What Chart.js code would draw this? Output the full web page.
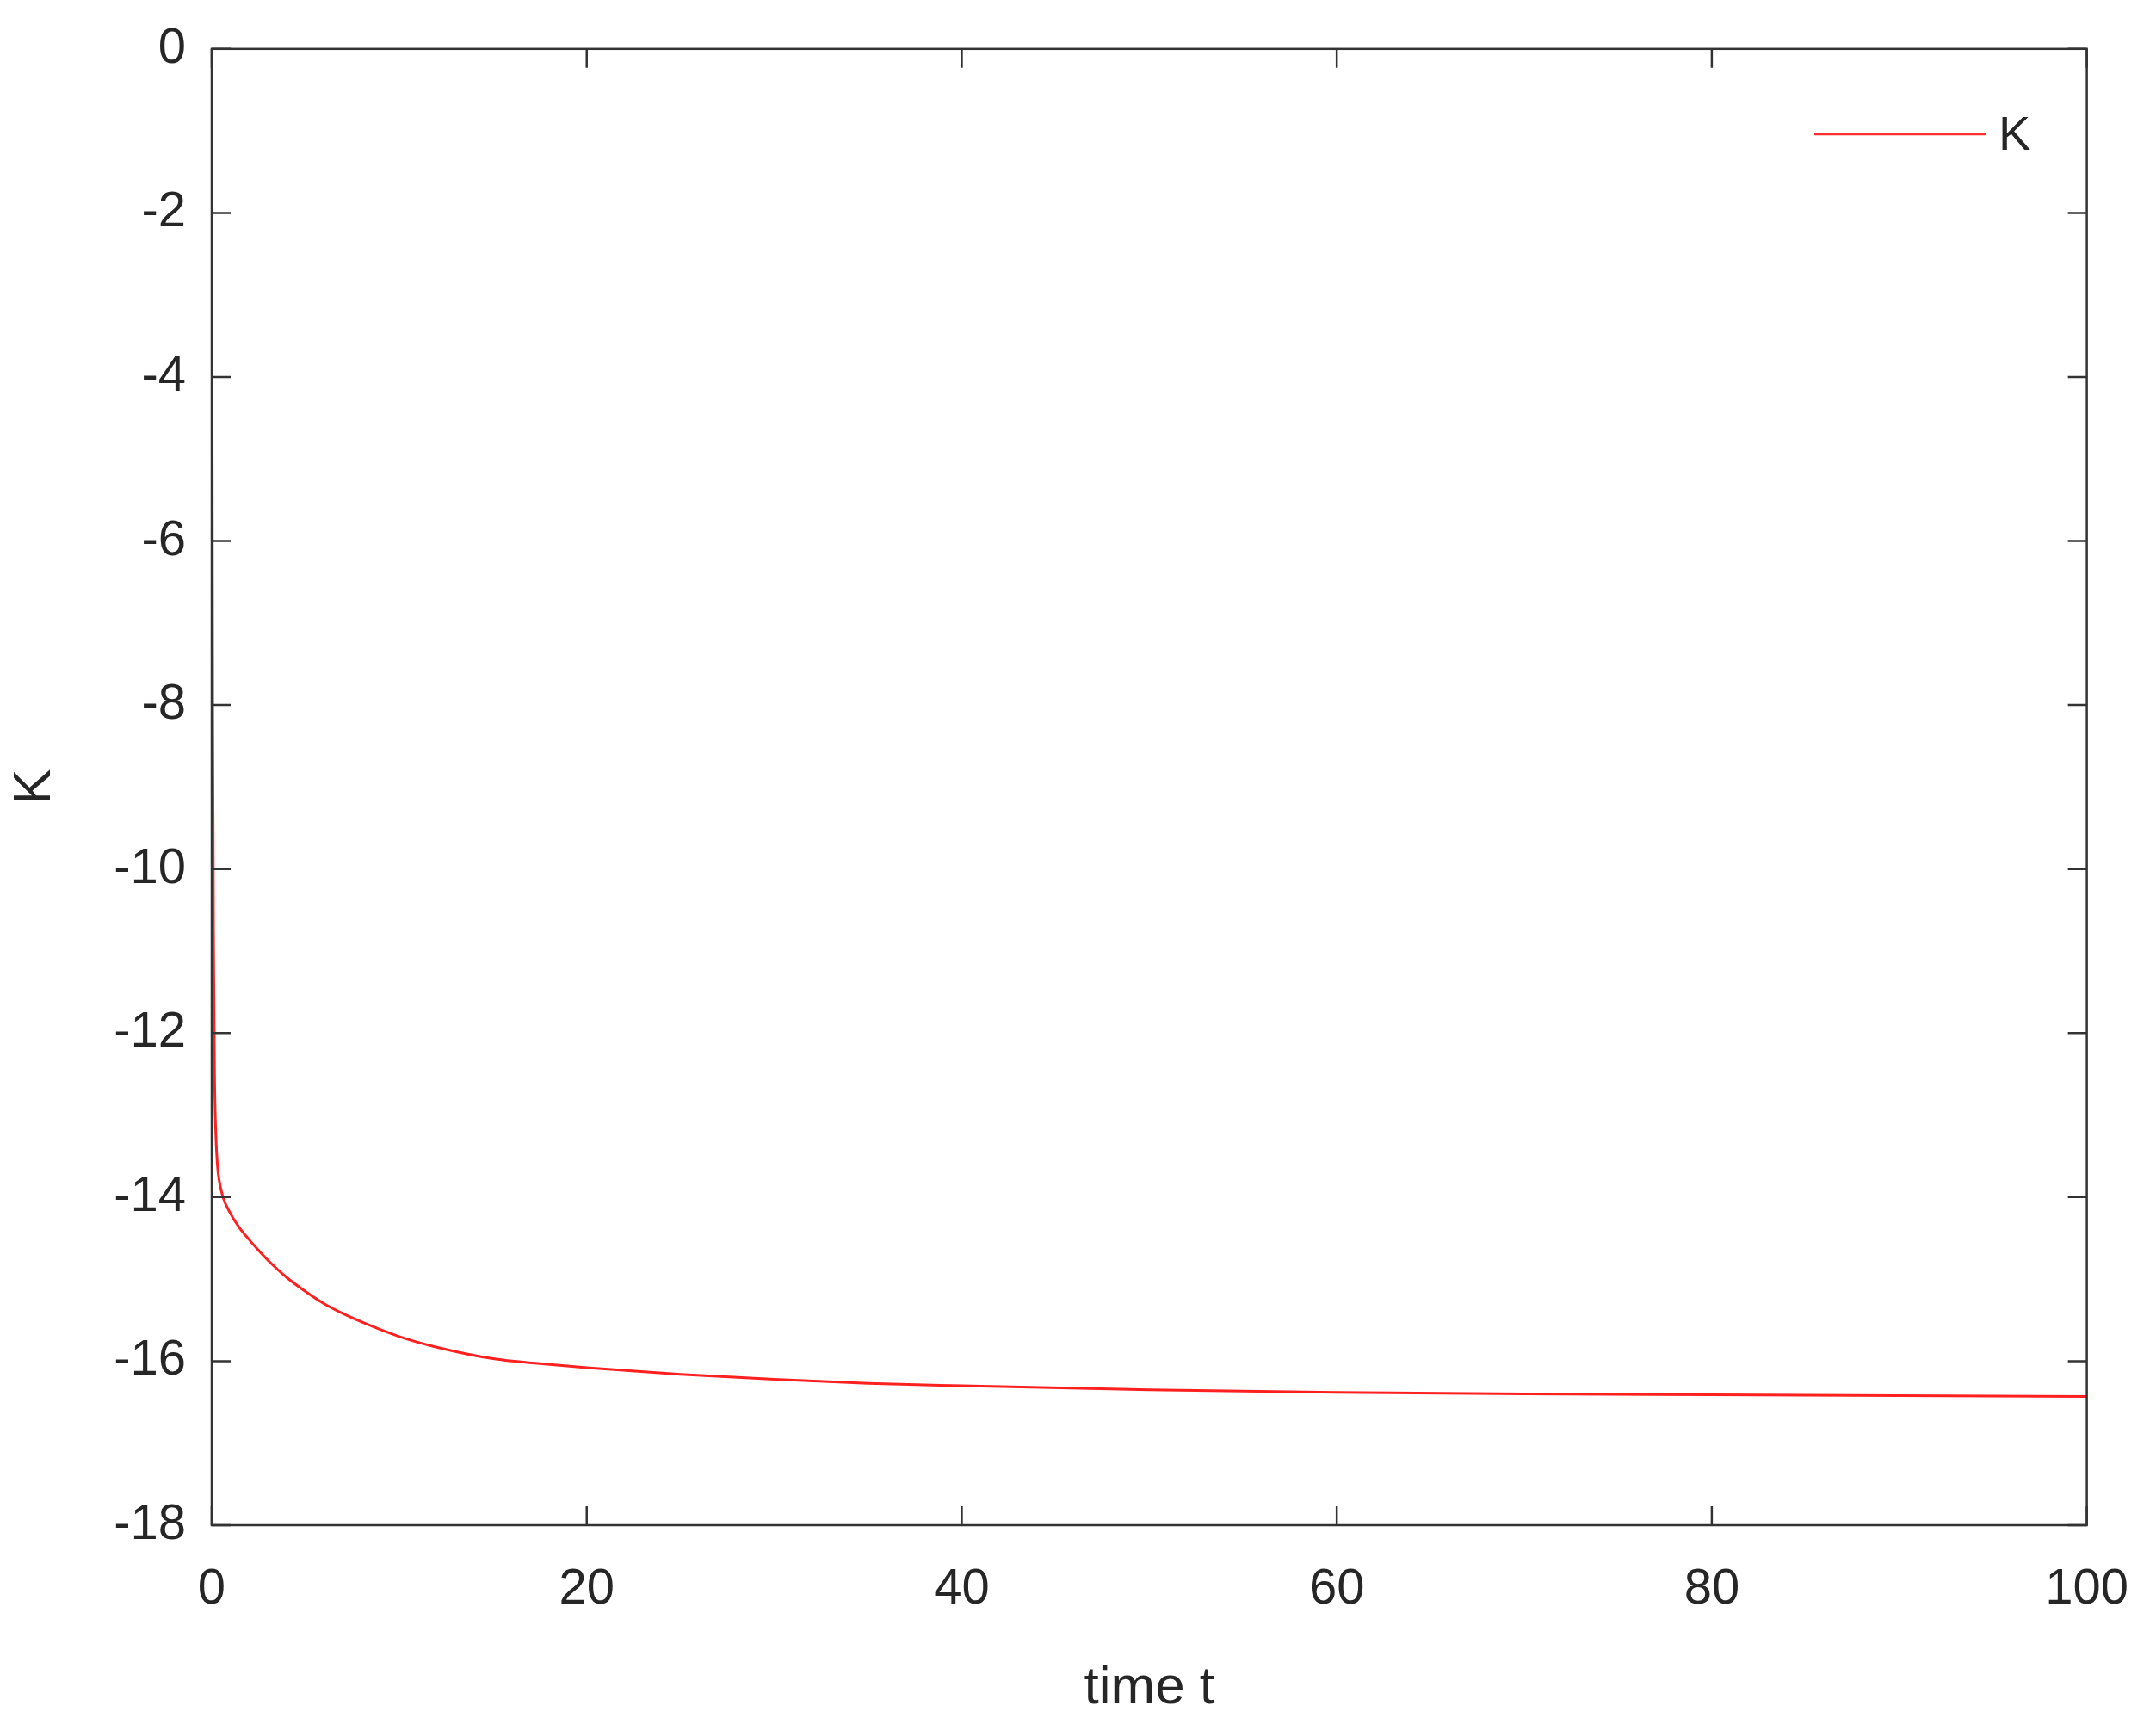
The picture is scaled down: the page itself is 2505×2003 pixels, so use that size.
<!DOCTYPE html>
<html><head><meta charset="utf-8">
<script src="https://cdn.jsdelivr.net/npm/chart.js@4"></script>
<style>html,body{margin:0;padding:0;background:#fff}#w{width:2505px;height:2003px}</style>
</head><body><div id="w"><canvas id="c"></canvas></div>
<script>
const timeT = [0,0.02,0.05,0.1,0.15,0.2,0.3,0.4,0.6,1,1.5,2,2.5,3,4,5,6,7,8.5,10,12,15,17.5,20,25,30,35,40,50,60,70,80,90,100];
const kValues = [-1,-4,-8,-11,-12.5,-13.1,-13.6,-13.8,-14.0,-14.2,-14.38,-14.52,-14.65,-14.77,-14.98,-15.15,-15.3,-15.42,-15.57,-15.7,-15.83,-15.97,-16.03,-16.08,-16.16,-16.22,-16.27,-16.3,-16.35,-16.38,-16.4,-16.41,-16.42,-16.43];
const xTicks = [0,20,40,60,80,100];
const yTicks = [0,-2,-4,-6,-8,-10,-12,-14,-16,-18];
const seriesLabel = 'K';
const FONT = 'Liberation Sans, Arial, sans-serif';

const frame = {
  id:'frame',
  afterDatasetsDraw(ch){
    const {ctx, chartArea:a, scales:{x,y}} = ch;
    ctx.save();
    ctx.strokeStyle='#333'; ctx.lineWidth=2.5;
    ctx.strokeRect(a.left,a.top,a.right-a.left,a.bottom-a.top);
    const L=22;
    ctx.beginPath();
    xTicks.forEach(v=>{const p=x.getPixelForValue(v);ctx.moveTo(p,a.bottom);ctx.lineTo(p,a.bottom-L);ctx.moveTo(p,a.top);ctx.lineTo(p,a.top+L);});
    yTicks.forEach(v=>{const p=y.getPixelForValue(v);ctx.moveTo(a.left,p);ctx.lineTo(a.left+L,p);ctx.moveTo(a.right,p);ctx.lineTo(a.right-L,p);});
    ctx.stroke();
    const ly = a.top+99;
    ctx.strokeStyle='#ff3030'; ctx.lineWidth=3;
    ctx.beginPath(); ctx.moveTo(2108,ly); ctx.lineTo(2308,ly); ctx.stroke();
    ctx.fillStyle='#262626'; ctx.font='56px '+FONT; ctx.textBaseline='middle';
    ctx.fillText(ch.data.datasets[0].label, 2322, ly+3);
    ctx.restore();
  }
};

new Chart(document.getElementById('c'),{
  type:'line',
  data:{datasets:[{label:seriesLabel,data:timeT.map((t,i)=>({x:t,y:kValues[i]})),borderColor:'#ff2020',borderWidth:3,pointRadius:0,cubicInterpolationMode:'monotone'}]},
  options:{
    responsive:true,maintainAspectRatio:false,animation:false,
    layout:{padding:{top:45,right:65,left:0,bottom:0}},
    plugins:{legend:{display:false},tooltip:{enabled:false}},
    scales:{
      x:{type:'linear',min:0,max:100,
        afterBuildTicks(s){s.ticks=xTicks.map(v=>({value:v}));},
        afterFit(s){s.height=231;},
        grid:{display:false},border:{display:false},
        ticks:{color:'#262626',font:{size:58,family:FONT},padding:32,maxRotation:0},
        title:{display:true,text:'time t',color:'#262626',font:{size:62,family:FONT},padding:{top:0}}},
      y:{type:'linear',min:-18,max:0,
        afterBuildTicks(s){s.ticks=yTicks.map(v=>({value:v}));},
        afterFit(s){s.width=246;},
        grid:{display:false},border:{display:false},
        ticks:{color:'#262626',font:{size:58,family:FONT},padding:22},
        title:{display:true,text:'K',color:'#262626',font:{size:62,family:FONT},padding:{bottom:0}}}
    }
  },
  plugins:[frame]
});
</script></body></html>
